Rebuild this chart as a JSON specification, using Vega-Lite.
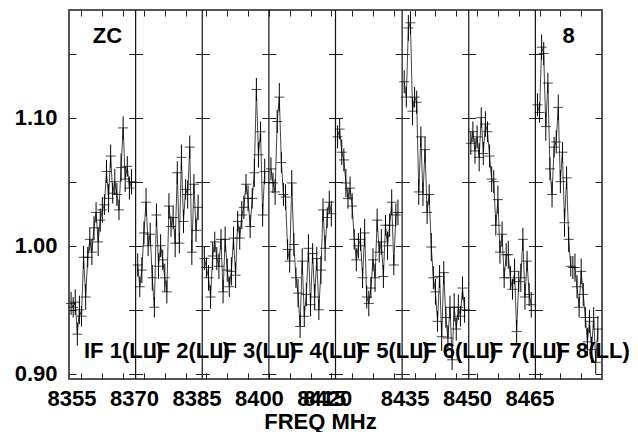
{
"$schema": "https://vega.github.io/schema/vega-lite/v6.json",
"width": 533, "height": 369,
"autosize": "none",
"padding": {"left": 69, "top": 10, "right": 36, "bottom": 53},
"background": "white",
"config": {
  "view": {"stroke": "#555", "strokeWidth": 2},
  "font": "Liberation Sans",
  "axis": {"labelFont": "Liberation Sans", "labelFontSize": 22, "labelFontWeight": "bold", "labelColor": "#000",
           "titleFont": "Liberation Sans", "titleFontSize": 22, "titleFontWeight": "bold", "titleColor": "#000",
           "ticks": false, "domain": false, "grid": true, "gridColor": "#222", "gridWidth": 1, "gridOpacity": 1,
           "labelOverlap": false, "labelFlush": false}
},
"datasets": {
"ifs": [
{"IF":1,"f":8352,"label":"IF 1(LL)"},{"IF":2,"f":8368,"label":"IF 2(LL)"},{"IF":3,"f":8384,"label":"IF 3(LL)"},{"IF":4,"f":8400,"label":"IF 4(LL)"},
{"IF":5,"f":8416,"label":"IF 5(LL)"},{"IF":6,"f":8432,"label":"IF 6(LL)"},{"IF":7,"f":8448,"label":"IF 7(LL)"},{"IF":8,"f":8464,"label":"IF 8(LL)"}],
"notes": [{"label": "ZC"}, {"label": "8"}],
"ch": [
{"IF":1,"f":8352.5,"v":0.955,"e":0.009},{"IF":1,"f":8353.0,"v":0.952,"e":0.008},{"IF":1,"f":8353.5,"v":0.956,"e":0.010},{"IF":1,"f":8354.0,"v":0.931,"e":0.009},{"IF":1,"f":8354.5,"v":0.950,"e":0.011},{"IF":1,"f":8355.0,"v":0.945,"e":0.008},{"IF":1,"f":8355.5,"v":0.991,"e":0.009},{"IF":1,"f":8356.0,"v":0.960,"e":0.010},{"IF":1,"f":8356.5,"v":0.991,"e":0.008},{"IF":1,"f":8357.0,"v":1.005,"e":0.009},
{"IF":1,"f":8357.5,"v":0.995,"e":0.010},{"IF":1,"f":8358.0,"v":1.014,"e":0.009},{"IF":1,"f":8358.5,"v":1.026,"e":0.008},{"IF":1,"f":8359.0,"v":1.003,"e":0.011},{"IF":1,"f":8359.5,"v":1.020,"e":0.009},{"IF":1,"f":8360.0,"v":1.028,"e":0.010},{"IF":1,"f":8360.5,"v":1.032,"e":0.008},{"IF":1,"f":8361.0,"v":1.058,"e":0.009},{"IF":1,"f":8361.5,"v":1.037,"e":0.011},{"IF":1,"f":8362.0,"v":1.070,"e":0.009},
{"IF":1,"f":8362.5,"v":1.041,"e":0.008},{"IF":1,"f":8363.0,"v":1.050,"e":0.010},{"IF":1,"f":8363.5,"v":1.040,"e":0.009},{"IF":1,"f":8364.0,"v":1.028,"e":0.008},{"IF":1,"f":8364.5,"v":1.061,"e":0.011},{"IF":1,"f":8365.0,"v":1.092,"e":0.009},{"IF":1,"f":8365.5,"v":1.052,"e":0.010},{"IF":1,"f":8366.0,"v":1.062,"e":0.008},{"IF":1,"f":8366.5,"v":1.045,"e":0.009},{"IF":1,"f":8367.0,"v":1.050,"e":0.010},
{"IF":2,"f":8368.5,"v":0.985,"e":0.009},{"IF":2,"f":8369.0,"v":0.968,"e":0.008},{"IF":2,"f":8369.5,"v":0.981,"e":0.010},{"IF":2,"f":8370.0,"v":1.010,"e":0.009},{"IF":2,"f":8370.5,"v":1.034,"e":0.011},{"IF":2,"f":8371.0,"v":1.000,"e":0.008},{"IF":2,"f":8371.5,"v":1.009,"e":0.009},{"IF":2,"f":8372.0,"v":0.975,"e":0.010},{"IF":2,"f":8372.5,"v":0.952,"e":0.008},{"IF":2,"f":8373.0,"v":1.024,"e":0.009},
{"IF":2,"f":8373.5,"v":0.984,"e":0.010},{"IF":2,"f":8374.0,"v":1.000,"e":0.009},{"IF":2,"f":8374.5,"v":0.989,"e":0.008},{"IF":2,"f":8375.0,"v":0.975,"e":0.011},{"IF":2,"f":8375.5,"v":0.964,"e":0.009},{"IF":2,"f":8376.0,"v":1.031,"e":0.010},{"IF":2,"f":8376.5,"v":1.015,"e":0.008},{"IF":2,"f":8377.0,"v":1.022,"e":0.009},{"IF":2,"f":8377.5,"v":1.002,"e":0.011},{"IF":2,"f":8378.0,"v":1.057,"e":0.009},
{"IF":2,"f":8378.5,"v":1.002,"e":0.008},{"IF":2,"f":8379.0,"v":1.069,"e":0.010},{"IF":2,"f":8379.5,"v":1.019,"e":0.009},{"IF":2,"f":8380.0,"v":1.044,"e":0.008},{"IF":2,"f":8380.5,"v":1.040,"e":0.011},{"IF":2,"f":8381.0,"v":1.077,"e":0.009},{"IF":2,"f":8381.5,"v":0.995,"e":0.010},{"IF":2,"f":8382.0,"v":1.048,"e":0.008},{"IF":2,"f":8382.5,"v":1.012,"e":0.009},{"IF":2,"f":8383.0,"v":1.030,"e":0.010},
{"IF":3,"f":8384.5,"v":0.990,"e":0.009},{"IF":3,"f":8385.0,"v":0.983,"e":0.008},{"IF":3,"f":8385.5,"v":0.975,"e":0.010},{"IF":3,"f":8386.0,"v":0.960,"e":0.009},{"IF":3,"f":8386.5,"v":0.992,"e":0.011},{"IF":3,"f":8387.0,"v":1.003,"e":0.008},{"IF":3,"f":8387.5,"v":0.990,"e":0.009},{"IF":3,"f":8388.0,"v":0.984,"e":0.010},{"IF":3,"f":8388.5,"v":1.005,"e":0.008},{"IF":3,"f":8389.0,"v":0.964,"e":0.009},
{"IF":3,"f":8389.5,"v":1.005,"e":0.010},{"IF":3,"f":8390.0,"v":0.981,"e":0.009},{"IF":3,"f":8390.5,"v":0.968,"e":0.008},{"IF":3,"f":8391.0,"v":0.980,"e":0.011},{"IF":3,"f":8391.5,"v":1.006,"e":0.009},{"IF":3,"f":8392.0,"v":0.977,"e":0.010},{"IF":3,"f":8392.5,"v":1.019,"e":0.008},{"IF":3,"f":8393.0,"v":1.006,"e":0.009},{"IF":3,"f":8393.5,"v":1.024,"e":0.011},{"IF":3,"f":8394.0,"v":1.030,"e":0.009},
{"IF":3,"f":8394.5,"v":1.048,"e":0.008},{"IF":3,"f":8395.0,"v":1.037,"e":0.010},{"IF":3,"f":8395.5,"v":1.015,"e":0.009},{"IF":3,"f":8396.0,"v":1.037,"e":0.008},{"IF":3,"f":8396.5,"v":1.057,"e":0.011},{"IF":3,"f":8397.0,"v":1.122,"e":0.009},{"IF":3,"f":8397.5,"v":1.071,"e":0.010},{"IF":3,"f":8398.0,"v":1.089,"e":0.008},{"IF":3,"f":8398.5,"v":1.024,"e":0.009},{"IF":3,"f":8399.0,"v":1.058,"e":0.010},
{"IF":4,"f":8400.5,"v":1.060,"e":0.009},{"IF":4,"f":8401.0,"v":1.049,"e":0.008},{"IF":4,"f":8401.5,"v":1.042,"e":0.010},{"IF":4,"f":8402.0,"v":1.097,"e":0.009},{"IF":4,"f":8402.5,"v":1.116,"e":0.011},{"IF":4,"f":8403.0,"v":1.065,"e":0.008},{"IF":4,"f":8403.5,"v":1.040,"e":0.009},{"IF":4,"f":8404.0,"v":1.038,"e":0.010},{"IF":4,"f":8404.5,"v":0.997,"e":0.008},{"IF":4,"f":8405.0,"v":0.988,"e":0.009},
{"IF":4,"f":8405.5,"v":1.049,"e":0.010},{"IF":4,"f":8406.0,"v":1.001,"e":0.009},{"IF":4,"f":8406.5,"v":0.975,"e":0.008},{"IF":4,"f":8407.0,"v":0.963,"e":0.011},{"IF":4,"f":8407.5,"v":0.937,"e":0.009},{"IF":4,"f":8408.0,"v":0.988,"e":0.010},{"IF":4,"f":8408.5,"v":0.945,"e":0.008},{"IF":4,"f":8409.0,"v":0.962,"e":0.009},{"IF":4,"f":8409.5,"v":0.998,"e":0.011},{"IF":4,"f":8410.0,"v":0.954,"e":0.009},
{"IF":4,"f":8410.5,"v":0.994,"e":0.008},{"IF":4,"f":8411.0,"v":0.960,"e":0.010},{"IF":4,"f":8411.5,"v":0.990,"e":0.009},{"IF":4,"f":8412.0,"v":0.950,"e":0.008},{"IF":4,"f":8412.5,"v":0.981,"e":0.011},{"IF":4,"f":8413.0,"v":1.028,"e":0.009},{"IF":4,"f":8413.5,"v":0.998,"e":0.010},{"IF":4,"f":8414.0,"v":1.022,"e":0.008},{"IF":4,"f":8414.5,"v":1.034,"e":0.009},{"IF":4,"f":8415.0,"v":1.025,"e":0.010},
{"IF":5,"f":8416.5,"v":1.085,"e":0.009},{"IF":5,"f":8417.0,"v":1.091,"e":0.008},{"IF":5,"f":8417.5,"v":1.073,"e":0.010},{"IF":5,"f":8418.0,"v":1.067,"e":0.009},{"IF":5,"f":8418.5,"v":1.049,"e":0.011},{"IF":5,"f":8419.0,"v":1.037,"e":0.008},{"IF":5,"f":8419.5,"v":1.045,"e":0.009},{"IF":5,"f":8420.0,"v":1.031,"e":0.010},{"IF":5,"f":8420.5,"v":1.005,"e":0.008},{"IF":5,"f":8421.0,"v":0.989,"e":0.009},
{"IF":5,"f":8421.5,"v":1.000,"e":0.010},{"IF":5,"f":8422.0,"v":1.005,"e":0.009},{"IF":5,"f":8422.5,"v":0.975,"e":0.008},{"IF":5,"f":8423.0,"v":1.010,"e":0.011},{"IF":5,"f":8423.5,"v":0.960,"e":0.009},{"IF":5,"f":8424.0,"v":0.955,"e":0.010},{"IF":5,"f":8424.5,"v":0.967,"e":0.008},{"IF":5,"f":8425.0,"v":0.989,"e":0.009},{"IF":5,"f":8425.5,"v":0.975,"e":0.011},{"IF":5,"f":8426.0,"v":1.020,"e":0.009},
{"IF":5,"f":8426.5,"v":0.995,"e":0.008},{"IF":5,"f":8427.0,"v":1.003,"e":0.010},{"IF":5,"f":8427.5,"v":0.976,"e":0.009},{"IF":5,"f":8428.0,"v":1.016,"e":0.008},{"IF":5,"f":8428.5,"v":1.000,"e":0.011},{"IF":5,"f":8429.0,"v":1.016,"e":0.009},{"IF":5,"f":8429.5,"v":1.034,"e":0.010},{"IF":5,"f":8430.0,"v":0.985,"e":0.008},{"IF":5,"f":8430.5,"v":1.024,"e":0.009},{"IF":5,"f":8431.0,"v":1.026,"e":0.010},
{"IF":6,"f":8432.5,"v":1.128,"e":0.009},{"IF":6,"f":8433.0,"v":1.116,"e":0.008},{"IF":6,"f":8433.5,"v":1.170,"e":0.010},{"IF":6,"f":8434.0,"v":1.174,"e":0.009},{"IF":6,"f":8434.5,"v":1.105,"e":0.011},{"IF":6,"f":8435.0,"v":1.116,"e":0.008},{"IF":6,"f":8435.5,"v":1.112,"e":0.009},{"IF":6,"f":8436.0,"v":1.042,"e":0.010},{"IF":6,"f":8436.5,"v":1.085,"e":0.008},{"IF":6,"f":8437.0,"v":1.040,"e":0.009},
{"IF":6,"f":8437.5,"v":1.075,"e":0.010},{"IF":6,"f":8438.0,"v":1.026,"e":0.009},{"IF":6,"f":8438.5,"v":1.040,"e":0.008},{"IF":6,"f":8439.0,"v":0.999,"e":0.011},{"IF":6,"f":8439.5,"v":0.975,"e":0.009},{"IF":6,"f":8440.0,"v":0.964,"e":0.010},{"IF":6,"f":8440.5,"v":0.941,"e":0.008},{"IF":6,"f":8441.0,"v":0.976,"e":0.009},{"IF":6,"f":8441.5,"v":0.929,"e":0.011},{"IF":6,"f":8442.0,"v":0.979,"e":0.009},
{"IF":6,"f":8442.5,"v":0.944,"e":0.008},{"IF":6,"f":8443.0,"v":0.928,"e":0.010},{"IF":6,"f":8443.5,"v":0.952,"e":0.009},{"IF":6,"f":8444.0,"v":0.911,"e":0.008},{"IF":6,"f":8444.5,"v":0.952,"e":0.011},{"IF":6,"f":8445.0,"v":0.935,"e":0.009},{"IF":6,"f":8445.5,"v":0.952,"e":0.010},{"IF":6,"f":8446.0,"v":0.945,"e":0.008},{"IF":6,"f":8446.5,"v":0.967,"e":0.009},{"IF":6,"f":8447.0,"v":0.950,"e":0.010},
{"IF":7,"f":8448.5,"v":1.080,"e":0.009},{"IF":7,"f":8449.0,"v":1.089,"e":0.008},{"IF":7,"f":8449.5,"v":1.074,"e":0.010},{"IF":7,"f":8450.0,"v":1.085,"e":0.009},{"IF":7,"f":8450.5,"v":1.069,"e":0.011},{"IF":7,"f":8451.0,"v":1.100,"e":0.008},{"IF":7,"f":8451.5,"v":1.072,"e":0.009},{"IF":7,"f":8452.0,"v":1.095,"e":0.010},{"IF":7,"f":8452.5,"v":1.089,"e":0.008},{"IF":7,"f":8453.0,"v":1.070,"e":0.009},
{"IF":7,"f":8453.5,"v":1.052,"e":0.010},{"IF":7,"f":8454.0,"v":1.050,"e":0.009},{"IF":7,"f":8454.5,"v":1.016,"e":0.008},{"IF":7,"f":8455.0,"v":1.036,"e":0.011},{"IF":7,"f":8455.5,"v":0.995,"e":0.009},{"IF":7,"f":8456.0,"v":1.009,"e":0.010},{"IF":7,"f":8456.5,"v":0.975,"e":0.008},{"IF":7,"f":8457.0,"v":0.993,"e":0.009},{"IF":7,"f":8457.5,"v":0.993,"e":0.011},{"IF":7,"f":8458.0,"v":0.975,"e":0.009},
{"IF":7,"f":8458.5,"v":0.966,"e":0.008},{"IF":7,"f":8459.0,"v":0.980,"e":0.010},{"IF":7,"f":8459.5,"v":0.933,"e":0.009},{"IF":7,"f":8460.0,"v":0.972,"e":0.008},{"IF":7,"f":8460.5,"v":0.975,"e":0.011},{"IF":7,"f":8461.0,"v":1.005,"e":0.009},{"IF":7,"f":8461.5,"v":0.960,"e":0.010},{"IF":7,"f":8462.0,"v":0.988,"e":0.008},{"IF":7,"f":8462.5,"v":0.962,"e":0.009},{"IF":7,"f":8463.0,"v":0.954,"e":0.010},
{"IF":8,"f":8464.5,"v":1.110,"e":0.009},{"IF":8,"f":8465.0,"v":1.104,"e":0.008},{"IF":8,"f":8465.5,"v":1.155,"e":0.010},{"IF":8,"f":8466.0,"v":1.150,"e":0.009},{"IF":8,"f":8466.5,"v":1.093,"e":0.011},{"IF":8,"f":8467.0,"v":1.127,"e":0.008},{"IF":8,"f":8467.5,"v":1.060,"e":0.009},{"IF":8,"f":8468.0,"v":1.040,"e":0.010},{"IF":8,"f":8468.5,"v":1.077,"e":0.008},{"IF":8,"f":8469.0,"v":1.081,"e":0.009},
{"IF":8,"f":8469.5,"v":1.108,"e":0.010},{"IF":8,"f":8470.0,"v":1.050,"e":0.009},{"IF":8,"f":8470.5,"v":1.073,"e":0.008},{"IF":8,"f":8471.0,"v":1.018,"e":0.011},{"IF":8,"f":8471.5,"v":1.053,"e":0.009},{"IF":8,"f":8472.0,"v":1.005,"e":0.010},{"IF":8,"f":8472.5,"v":0.984,"e":0.008},{"IF":8,"f":8473.0,"v":0.983,"e":0.009},{"IF":8,"f":8473.5,"v":0.983,"e":0.011},{"IF":8,"f":8474.0,"v":0.968,"e":0.009},
{"IF":8,"f":8474.5,"v":0.952,"e":0.008},{"IF":8,"f":8475.0,"v":0.980,"e":0.010},{"IF":8,"f":8475.5,"v":0.962,"e":0.009},{"IF":8,"f":8476.0,"v":0.944,"e":0.008},{"IF":8,"f":8476.5,"v":0.925,"e":0.011},{"IF":8,"f":8477.0,"v":0.941,"e":0.009},{"IF":8,"f":8477.5,"v":0.919,"e":0.010},{"IF":8,"f":8478.0,"v":0.944,"e":0.008},{"IF":8,"f":8478.5,"v":0.909,"e":0.009},{"IF":8,"f":8479.0,"v":0.935,"e":0.010}
]
},
"layer": [
  {"data": {"name": "ch"},
   "mark": {"type": "line", "color": "#444", "strokeWidth": 1},
   "encoding": {
     "x": {"field": "f", "type": "quantitative",
       "scale": {"domain": [8352, 8480], "nice": false, "zero": false},
       "axis": {
         "values": [8355,8360,8365,8370,8375,8380,8385,8390,8395,8400,8405,8410,8415,8420,8425,8430,8435,8440,8445,8450,8455,8460,8465,8470,8475],
         "tickCount": 25,
         "format": "d",
         "labelExpr": "indexof([8355,8370,8385,8400,8415,8420,8435,8450,8465], datum.value) >= 0 ? datum.label : ''",
         "labelOverlap": false, "labelFlush": false,
         "labelPadding": 15,
         "labelOffset": {"condition": {"test": "datum.value == 8420", "value": -25}, "value": -10},
         "ticks": true, "tickSize": -6, "tickColor": "#222", "tickWidth": 1,
         "grid": true, "gridColor": "#222", "gridWidth": 1, "gridOpacity": 1, "gridDash": [6, 357],
         "title": "FREQ MHz", "titlePadding": 2, "titleX": 251
       }},
     "y": {"field": "v", "type": "quantitative",
       "scale": {"domain": [0.896, 1.184], "nice": false, "zero": false},
       "axis": {
         "values": [0.9, 0.95, 1.0, 1.05, 1.1, 1.15], "tickCount": 6, "format": ".2f",
         "labelExpr": "abs(datum.value*10 - round(datum.value*10)) < 0.001 ? datum.label : ''",
         "labelOverlap": false, "labelFlush": false,
         "labelPadding": 12,
         "grid": true, "gridColor": "#222", "gridWidth": 1, "gridOpacity": 1, "gridDash": [14, 52.625], "gridDashOffset": 7,
         "title": null
       }},
     "detail": {"field": "IF", "type": "nominal"}
   }},
  {"data": {"name": "ifs"}, "transform": [{"filter": "datum.IF > 1"}],
   "mark": {"type": "rule", "color": "#111", "strokeWidth": 1.2},
   "encoding": {"x": {"field": "f", "type": "quantitative"}}},
  {"data": {"name": "ch"},
   "mark": {"type": "errorbar", "ticks": false, "color": "#000", "thickness": 1},
   "encoding": {
     "x": {"field": "f", "type": "quantitative"},
     "y": {"field": "v", "type": "quantitative"},
     "yError": {"field": "e"}
   }},
  {"data": {"name": "ch"},
   "mark": {"type": "tick", "orient": "horizontal", "size": 10, "thickness": 1, "color": "#000"},
   "encoding": {
     "x": {"field": "f", "type": "quantitative"},
     "y": {"field": "v", "type": "quantitative"}
   }},
  {"data": {"name": "ifs"},
   "mark": {"type": "text", "align": "left", "baseline": "alphabetic", "dx": 15, "font": "Liberation Sans", "fontSize": 22, "fontWeight": "bold", "color": "#000"},
   "encoding": {
     "x": {"field": "f", "type": "quantitative"},
     "y": {"datum": 0.9127},
     "text": {"field": "label"}
   }},
  {"data": {"name": "notes"}, "transform": [{"filter": "datum.label == 'ZC'"}],
   "mark": {"type": "text", "align": "center", "baseline": "alphabetic", "font": "Liberation Sans", "fontSize": 22, "fontWeight": "bold", "color": "#000"},
   "encoding": {
     "x": {"datum": 8361.25},
     "y": {"datum": 1.1582},
     "text": {"field": "label"}
   }},
  {"data": {"name": "notes"}, "transform": [{"filter": "datum.label == '8'"}],
   "mark": {"type": "text", "align": "center", "baseline": "alphabetic", "font": "Liberation Sans", "fontSize": 22, "fontWeight": "bold", "color": "#000"},
   "encoding": {
     "x": {"datum": 8471.96},
     "y": {"datum": 1.1582},
     "text": {"field": "label"}
   }}
]
}
